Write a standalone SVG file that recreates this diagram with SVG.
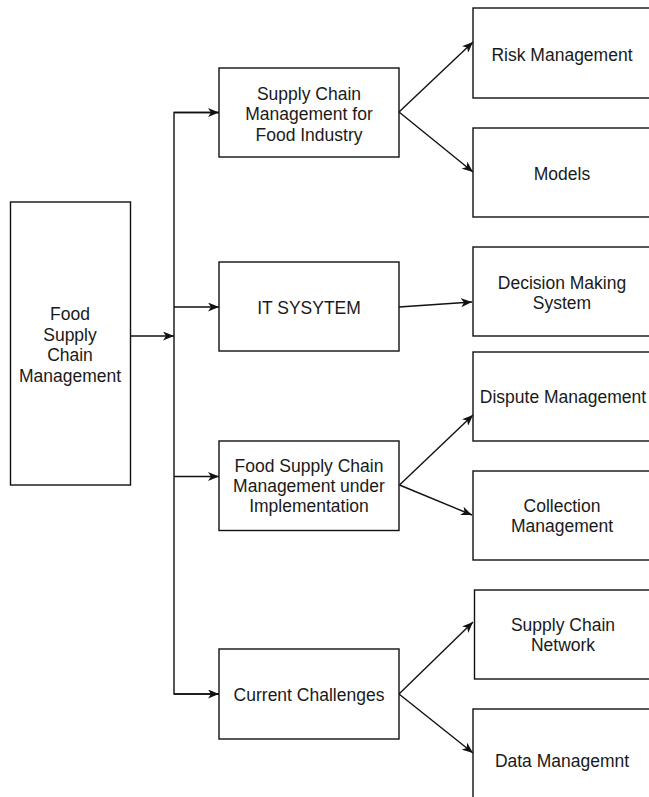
<svg xmlns="http://www.w3.org/2000/svg" width="649" height="797" viewBox="0 0 649 797">
<style>
.box{fill:#fff;stroke:#111;stroke-width:1.4}
.t{font-family:"Liberation Sans",Arial,Helvetica,sans-serif;font-size:17.5px;fill:#1a1a1a;text-anchor:middle}
.c{fill:none;stroke:#111;stroke-width:1.4}
</style>
<defs>
<marker id="ah" viewBox="0 0 11 9" refX="11" refY="4.5" markerWidth="11" markerHeight="9" markerUnits="userSpaceOnUse" orient="auto">
<path d="M0,0 L11,4.5 L0,9 L3,4.5 Z" fill="#111"/>
</marker>
</defs>
<rect width="649" height="797" fill="#fff"/>
<g id="connectors">
<line class="c" x1="130" y1="336" x2="174" y2="336" marker-end="url(#ah)"/>
<polyline class="c" points="219,112.5 174,112.5 174,694 219,694"/>
<line class="c" x1="174" y1="112.5" x2="219" y2="112.5" marker-end="url(#ah)"/>
<line class="c" x1="174" y1="307" x2="219" y2="307" marker-end="url(#ah)"/>
<line class="c" x1="174" y1="476.5" x2="219" y2="476.5" marker-end="url(#ah)"/>
<line class="c" x1="174" y1="694" x2="219" y2="694" marker-end="url(#ah)"/>
<line class="c" x1="399" y1="112" x2="473" y2="42" marker-end="url(#ah)"/>
<line class="c" x1="399" y1="112" x2="473" y2="172" marker-end="url(#ah)"/>
<line class="c" x1="399" y1="307" x2="472" y2="302" marker-end="url(#ah)"/>
<line class="c" x1="399.5" y1="485" x2="473" y2="415" marker-end="url(#ah)"/>
<line class="c" x1="399.5" y1="485" x2="472" y2="515" marker-end="url(#ah)"/>
<line class="c" x1="399" y1="694" x2="473" y2="622" marker-end="url(#ah)"/>
<line class="c" x1="399" y1="694" x2="473" y2="753" marker-end="url(#ah)"/>
</g>
<g id="food-supply-chain-management">
<rect class="box" x="10.5" y="202" width="120" height="283"/>
<text class="t" x="70" y="320">Food</text>
<text class="t" x="70" y="340.5">Supply</text>
<text class="t" x="70" y="361">Chain</text>
<text class="t" x="70" y="381.5">Management</text>
</g>
<g id="scm-food-industry">
<rect class="box" x="219" y="68" width="180" height="89"/>
<text class="t" x="309" y="99.5">Supply Chain</text>
<text class="t" x="309" y="120">Management for</text>
<text class="t" x="309" y="140.5">Food Industry</text>
</g>
<g id="it-system">
<rect class="box" x="219" y="262" width="180" height="89"/>
<text class="t" x="309" y="313.5">IT SYSYTEM</text>
</g>
<g id="fscm-implementation">
<rect class="box" x="219" y="441" width="180" height="89.5"/>
<text class="t" x="309" y="472">Food Supply Chain</text>
<text class="t" x="309" y="492">Management under</text>
<text class="t" x="309" y="512">Implementation</text>
</g>
<g id="current-challenges">
<rect class="box" x="219" y="649" width="180" height="90"/>
<text class="t" x="309" y="701">Current Challenges</text>
</g>
<g id="risk-management">
<rect class="box" x="473" y="8" width="180" height="90"/>
<text class="t" x="562" y="61">Risk Management</text>
</g>
<g id="models">
<rect class="box" x="473" y="128" width="180" height="89"/>
<text class="t" x="562" y="180">Models</text>
</g>
<g id="decision-making-system">
<rect class="box" x="473" y="247" width="180" height="89"/>
<text class="t" x="562" y="288.5">Decision Making</text>
<text class="t" x="562" y="308.5">System</text>
</g>
<g id="dispute-management">
<rect class="box" x="473" y="352" width="180" height="89"/>
<text class="t" x="563" y="403">Dispute Management</text>
</g>
<g id="collection-management">
<rect class="box" x="473" y="471" width="180" height="89"/>
<text class="t" x="562" y="512">Collection</text>
<text class="t" x="562" y="532">Management</text>
</g>
<g id="supply-chain-network">
<rect class="box" x="474.5" y="590" width="180" height="89"/>
<text class="t" x="563" y="631">Supply Chain</text>
<text class="t" x="563" y="651">Network</text>
</g>
<g id="data-management">
<rect class="box" x="473" y="709" width="180" height="95"/>
<text class="t" x="562" y="767">Data Managemnt</text>
</g>
</svg>
